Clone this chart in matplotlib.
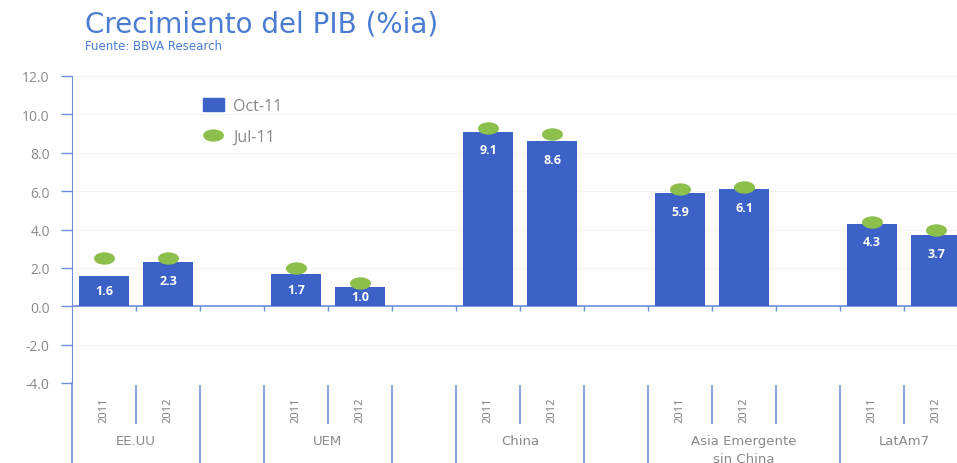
import matplotlib.pyplot as plt
import numpy as np
from matplotlib.path import Path
from matplotlib.transforms import Affine2D
from matplotlib.lines import Line2D
from matplotlib.patches import Patch

plt.rcParams['font.family'] = ['Open Sans', 'DejaVu Sans']

# datos
regiones = ["EE.UU", "UEM", "China", "Asia Emergente\nsin China", "LatAm7"]
anios = ["2011", "2012"]
oct11 = [1.6, 2.3, 1.7, 1.0, 9.1, 8.6, 5.9, 6.1, 4.3, 3.7]
jul11 = [2.5, 2.5, 2.0, 1.2, 9.3, 9.0, 6.1, 6.2, 4.4, 4.0]
posiciones = [0, 1, 3, 4, 6, 7, 9, 10, 12, 13]
pos_regiones = [0.5, 3.5, 6.5, 10, 12.5]
sep_cortas = [0.5, 3.5, 6.5, 9.5, 10.5, 12.5]
sep_largas = [1.5, 2.5, 4.5, 5.5, 7.5, 8.5, 11.5]

azul = '#3c62c8'
verde = '#8dbf4c'
gris = '#8a8a8a'
azul_eje = '#6f8fdc'

fig = plt.figure(figsize=(9.57, 4.64), dpi=100)
ax = fig.add_axes([72/957, 80/464, 896/957, 307/464])

ax.set_xlim(-0.5, 13.5)
ax.set_ylim(-4, 12)
ax.set_yticks(np.arange(-4, 12.1, 2))
ax.set_yticklabels([f"{v:.1f}" for v in np.arange(-4, 12.1, 2)])
ax.tick_params(axis='y', colors=azul_eje, labelcolor=gris, labelsize=10,
               length=8, width=1, pad=8)
ax.set_xticks([])
for s in ['top', 'right', 'bottom']:
    ax.spines[s].set_visible(False)
ax.spines['left'].set_color(azul_eje)
ax.yaxis.grid(True, color='#f2f2f2', lw=0.8)
ax.set_axisbelow(True)

# linea del cero con marcas
ax.axhline(0, color=azul_eje, lw=1.2, zorder=1)
marcas = np.arange(0.5, 13.6, 1)
ax.vlines(marcas, -0.25, 0, color=azul_eje, lw=1)

barras = ax.bar(posiciones, oct11, width=0.78, color=azul, zorder=2)
for x, v in zip(posiciones, oct11):
    ax.text(x, max(v - 0.95, v / 2), f"{v:.1f}", ha='center', va='center',
            color='white', fontsize=9, fontweight='bold', zorder=3)

elipse = Path.unit_circle().transformed(Affine2D().scale(1.7, 1.0))
ax.scatter(posiciones, jul11, marker=elipse, s=230, color=verde, zorder=4,
           linewidths=0)

# eje de categorias
trans = ax.get_xaxis_transform()
ax.vlines(sep_cortas, -0.135, -0.005, color=azul_eje, lw=1.2,
          transform=trans, clip_on=False)
ax.vlines(sep_largas, -0.27, -0.005, color=azul_eje, lw=1.2,
          transform=trans, clip_on=False)
ax.plot([-0.5, -0.5], [0, -0.27], color=azul_eje, lw=1.2,
        transform=trans, clip_on=False)
for i, x in enumerate(posiciones):
    ax.text(x, -0.085, anios[i % 2], rotation=90, ha='center', va='center',
            color='#777777', fontsize=8, transform=trans)
for x, r in zip(pos_regiones, regiones):
    ax.text(x, -0.165, r, ha='center', va='top', color=gris, fontsize=9.5,
            transform=trans, linespacing=1.5, family='DejaVu Sans')

# leyenda
h1 = Patch(color=azul)
h2 = Line2D([], [], marker=elipse, ls='none', color=verde, markersize=15,
            markeredgewidth=0)
ax.legend([h1, h2], ["Oct-11", "Jul-11"], loc='upper left',
          bbox_to_anchor=(0.13, 0.975), frameon=False, fontsize=11.5,
          labelcolor=gris, handlelength=1.3, handleheight=0.9,
          labelspacing=0.9, handletextpad=0.6)

fig.text(85/957, 1 - 25/464, "Crecimiento del PIB (%ia)", color='#4a7cd2',
         fontsize=20, va='center', ha='left', family='DejaVu Sans')
fig.text(85/957, 1 - 47/464, "Fuente: BBVA Research", color='#4a7cd2',
         fontsize=8.5, va='center', ha='left', family='DejaVu Sans')

fig.savefig("out.png", dpi=100)
